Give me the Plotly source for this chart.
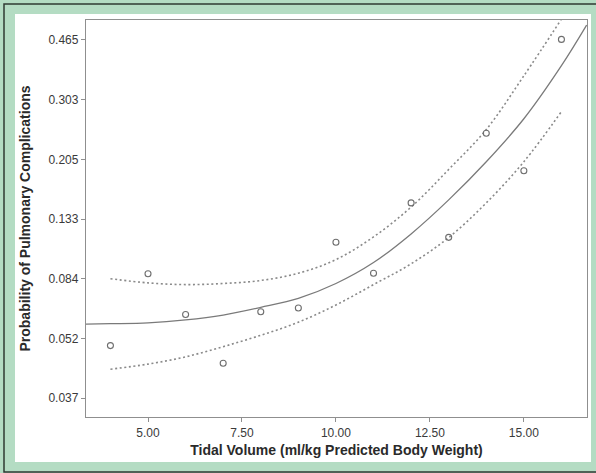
import numpy as np
import plotly.graph_objects as go

# ---- data (probabilities) ----
tick_probs = [0.037, 0.052, 0.084, 0.133, 0.205, 0.303, 0.465]
tick_labels = ["0.037", "0.052", "0.084", "0.133", "0.205", "0.303", "0.465"]
x_ticks = [5, 7.5, 10, 12.5, 15]
x_tick_labels = ["5.00", "7.50", "10.00", "12.50", "15.00"]

obs_volume = [4, 5, 6, 7, 8, 9, 10, 11, 12, 13, 14, 15, 16]
obs_prob = [0.0499, 0.0872, 0.0630, 0.0451, 0.0644, 0.0664, 0.1112,
            0.0876, 0.1495, 0.1155, 0.2431, 0.1888, 0.467]

fit_volume = [3.35, 4, 5, 6, 7, 8, 9, 10, 11, 12, 13, 14, 15, 16, 16.67]
fit_prob = [0.0583, 0.0585, 0.0589, 0.0603, 0.0627, 0.0667, 0.0717, 0.0808,
            0.0951, 0.1186, 0.1528, 0.2015, 0.2674, 0.3868, 0.5176]

ci_volume = [4, 5, 6, 7, 8, 9, 10, 11, 12, 13, 14, 15, 16]
ci_upper = [0.0840, 0.0812, 0.0801, 0.0808, 0.0828, 0.0876, 0.0973,
            0.1159, 0.1450, 0.1905, 0.2492, 0.3596, 0.5402]
ci_lower = [0.0436, 0.0449, 0.0468, 0.0496, 0.0533, 0.0592, 0.0680,
            0.0801, 0.0942, 0.1153, 0.1495, 0.2015, 0.2802]


# ---- the chart's own y scale: evenly spaced labelled ticks, log-interpolated between ----
LN_T = np.log(np.array(tick_probs))


def to_axis(p):
    lp = np.log(np.asarray(p, dtype=float))
    out = np.empty_like(lp)
    for k, v in enumerate(lp):
        i = int(np.clip(np.searchsorted(LN_T, v) - 1, 0, len(LN_T) - 2))
        out[k] = i + (v - LN_T[i]) / (LN_T[i + 1] - LN_T[i])
    return out


GREY = "#7a7a7a"
DOTS = "2px,2.6px"
fig = go.Figure()

fig.add_trace(go.Scatter(x=ci_volume, y=to_axis(ci_upper), mode="lines",
                         line=dict(color="#8a8a8a", width=1.6, dash=DOTS, shape="spline"),
                         showlegend=False, hoverinfo="skip"))
fig.add_trace(go.Scatter(x=ci_volume, y=to_axis(ci_lower), mode="lines",
                         line=dict(color="#8a8a8a", width=1.6, dash=DOTS, shape="spline"),
                         showlegend=False, hoverinfo="skip"))
fig.add_trace(go.Scatter(x=fit_volume, y=to_axis(fit_prob), mode="lines",
                         line=dict(color=GREY, width=1.3, shape="spline"),
                         showlegend=False))
fig.add_trace(go.Scatter(x=obs_volume, y=to_axis(obs_prob), mode="markers",
                         marker=dict(symbol="circle-open", size=6, color="#6e6e6e",
                                     line=dict(width=1.1, color="#6e6e6e")),
                         showlegend=False))

# panel decorations (green card with dark outline, white inner panel)
L, R, T, B = 86, 9, 20, 56
W, H = 596, 473
pw, ph = W - L - R, H - T - B


def px(xp):
    return (xp - L) / pw


def py(yp):
    return (H - B - yp) / ph


fig.add_shape(type="rect", xref="paper", yref="paper", layer="below",
              x0=px(4), x1=px(599), y0=py(472), y1=py(4),
              line=dict(color="#2f3a33", width=1.5), fillcolor="#b4dcc3")
fig.add_shape(type="rect", xref="paper", yref="paper", layer="below",
              x0=px(15), x1=px(591), y0=py(462), y1=py(14),
              line=dict(width=0), fillcolor="white")

font = "Liberation Sans, Arial, Helvetica, sans-serif"
axis_common = dict(showgrid=False, zeroline=False, showline=True, mirror=True,
                   linecolor="#8f8f8f", linewidth=1.3, ticks="outside", ticklen=4,
                   tickcolor="#8f8f8f", tickfont=dict(size=12, color="#3a3a3a"),
                   automargin=False)
fig.update_layout(
    width=W, height=H,
    margin=dict(l=L, r=R, t=T, b=B),
    paper_bgcolor="#b4dcc3",
    plot_bgcolor="white",
    font=dict(family=font, size=12, color="#3a3a3a"),
    xaxis=dict(range=[3.35, 16.68], tickvals=x_ticks, ticktext=x_tick_labels,
               title=dict(text="<b>Tidal Volume (ml/kg Predicted Body Weight)</b>",
                          font=dict(size=14, color="#2a2a2a"), standoff=6),
               **axis_common),
    yaxis=dict(range=[-0.318, 6.335], tickvals=list(range(len(tick_labels))),
               ticktext=tick_labels,
               title=dict(text="<b>Probability of Pulmonary Complications</b>",
                          font=dict(size=14, color="#2a2a2a"), standoff=14),
               **axis_common),
)

fig.write_html("out.html",
               config={"displayModeBar": False},
               post_script="document.body.style.margin='0';document.body.style.overflow='hidden';")
